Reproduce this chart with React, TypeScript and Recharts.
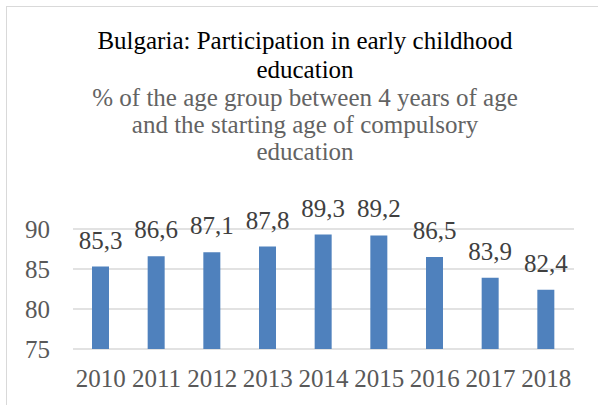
import React from 'react';
import { BarChart, Bar, XAxis, YAxis, CartesianGrid, LabelList } from 'recharts';

const years = ['2010', '2011', '2012', '2013', '2014', '2015', '2016', '2017', '2018'];
const participation = [85.3, 86.6, 87.1, 87.8, 89.3, 89.2, 86.5, 83.9, 82.4];
const yTicks = [75, 80, 85, 90];
const titleLines = ['Bulgaria: Participation in early childhood', 'education'];
const subtitleLines = [
  '% of the age group between 4 years of age',
  'and the starting age of compulsory',
  'education',
];

const data = years.map((year, i) => ({ year, value: participation[i] }));

const FONT = 'Liberation Serif';
const fmt = (v: number) => v.toFixed(1).replace('.', ',');

export default function App() {
  return (
    <div
      style={{
        position: 'fixed',
        top: 0,
        left: 0,
        width: 598,
        height: 405,
        background: '#fff',
        overflow: 'hidden',
        fontFamily: FONT,
      }}
    >
      <div
        style={{
          position: 'absolute',
          left: 6,
          top: 6,
          width: 600,
          height: 410,
          borderTop: '1px solid #d9d9d9',
          borderLeft: '1px solid #d9d9d9',
        }}
      />
      <svg
        width={598}
        height={170}
        style={{ position: 'absolute', left: 0, top: 0, pointerEvents: 'none' }}
      >
        {titleLines.map((t, i) => (
          <text
            key={'t' + i}
            x={305}
            y={49 + i * 29}
            textAnchor="middle"
            style={{ fontFamily: FONT, fontSize: 25 }}
            fill="#000"
          >
            {t}
          </text>
        ))}
        {subtitleLines.map((t, i) => (
          <text
            key={'s' + i}
            x={305}
            y={106 + i * 27}
            textAnchor="middle"
            style={{ fontFamily: FONT, fontSize: 25 }}
            fill="#636363"
          >
            {t}
          </text>
        ))}
      </svg>
      <div style={{ position: 'absolute', left: 0, top: 0 }}>
        <BarChart
          width={598}
          height={405}
          data={data}
          margin={{ top: 229, right: 24, bottom: 0, left: 0 }}
          style={{ fontFamily: FONT }}
        >
          <CartesianGrid horizontal vertical={false} stroke="#d9d9d9" strokeWidth={1.5} />
          <XAxis
            dataKey="year"
            height={56}
            axisLine={false}
            tickLine={false}
            tickSize={0}
            tickMargin={20}
            interval={0}
            tick={{ fill: '#595959', fontSize: 25, fontFamily: FONT }}
          />
          <YAxis
            width={73}
            domain={[75, 90]}
            ticks={yTicks}
            allowDataOverflow
            axisLine={false}
            tickLine={false}
            tickSize={0}
            tickMargin={23}
            tick={{ fill: '#595959', fontSize: 25, fontFamily: FONT }}
          />
          <Bar dataKey="value" fill="#4f81bd" barSize={17} isAnimationActive={false}>
            <LabelList
              dataKey="value"
              position="top"
              offset={18}
              formatter={(v: any) => fmt(Number(v))}
              style={{ fill: '#404040', fontSize: 25, fontFamily: FONT }}
            />
          </Bar>
        </BarChart>
      </div>
    </div>
  );
}
